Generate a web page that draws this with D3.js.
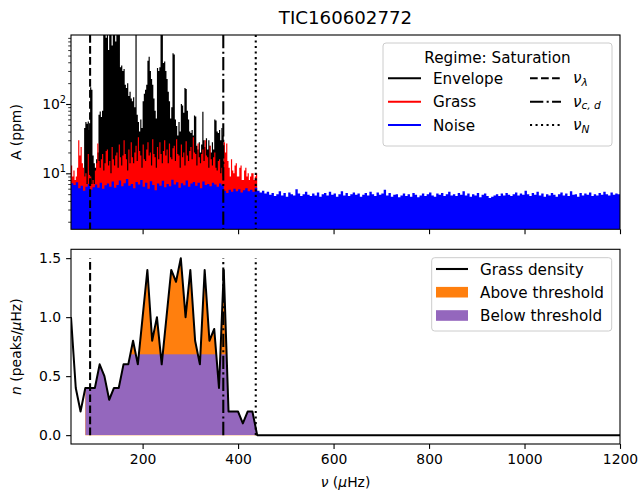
<!DOCTYPE html>
<html><head><meta charset="utf-8">
<script src="https://cdn.jsdelivr.net/npm/d3@7"></script>
<style>body{margin:0;background:#fff} text{font-family:"DejaVu Sans",sans-serif}</style>
</head><body><svg id="c" width="640" height="496"></svg>
<script>
// ---------------- data ----------------
const title = "TIC160602772";
const noiseStart = 50, noiseStep = 5;
const noise = [
7.2,6.8,7.4,6.1,6.6,5.6,6.4,7.0,5.8,6.3,6.9,6.2,7.3,6.0,6.7,7.1,6.4,7.6,6.2,6.8,
7.9,6.5,7.2,8.3,6.6,7.0,6.1,7.5,6.9,8.0,6.4,7.3,6.0,7.7,6.8,5.7,7.1,6.6,7.8,6.3,
7.0,6.5,8.1,6.9,7.4,6.2,7.2,6.7,7.9,6.4,7.1,7.5,6.6,7.3,6.1,7.6,6.8,7.0,6.5,7.3,
6.9,6.4,7.1,6.7,5.6,5.2,5.8,5.4,6.0,5.5,5.9,5.3,5.7,6.1,5.5,5.8,5.4,6.2,5.6,5.3,
5.6,5.1,5.4,4.9,5.2,4.7,5.0,5.5,4.8,5.2,4.6,5.3,5.0,4.8,5.9,5.1,4.7,5.0,5.4,4.9,
4.7,5.1,4.8,5.3,4.6,5.0,5.2,4.8,5.4,4.9,5.1,4.6,5.0,5.5,4.8,5.2,4.7,5.0,5.3,4.9,
5.1,4.6,4.9,5.2,4.8,5.4,5.0,4.7,5.3,4.9,5.1,5.8,4.8,5.2,4.6,4.9,5.0,4.5,4.8,5.1,
4.7,5.0,4.6,5.2,4.9,4.5,4.8,5.1,4.7,5.0,5.3,4.8,4.6,5.1,4.9,5.2,4.7,5.0,5.4,4.8,
5.0,4.7,5.2,4.9,5.5,4.8,5.1,4.6,5.0,4.8,5.2,4.5,4.9,5.1,4.7,4.4,4.6,4.8,5.0,4.7,
5.1,4.8,5.2,4.9,4.7,5.0,5.3,4.8,5.1,4.9,5.6,5.0,4.7,5.2,4.9,5.4,4.8,5.1,4.6,5.0,
4.8,5.2,4.9,4.6,5.0,5.3,4.8,5.1,4.7,5.5,4.9,5.0,4.6,5.2,4.8,5.1,4.9,5.3,4.7,5.0,
4.8,5.2,4.9,5.4,5.0,4.8,5.3,4.9,5.1,5.0,5.2];
const grassStart = 50, grassStep = 2.5;
const grass = [
13,9,11,8,9,12,30,18,24,14,12,9,10,7,19,11,9,7,8,7,
11,14,27,15,12,16,19,11,14,21,22,13,15,10,24,16,13,18,20,12,
26,17,13,18,30,19,16,11,22,14,28,17,14,20,25,15,33,21,18,12,
26,16,15,22,28,18,20,13,31,19,17,12,24,16,28,19,14,21,30,18,
22,14,27,17,16,23,25,15,31,19,18,12,26,17,20,13,29,18,15,21,
24,16,33,20,19,13,27,17,14,19,22,15,30,18,17,12,25,16,13,17,
20,12,11,15,16,10,12,9,28,20,27,15,12,9,16,11,10,13,14,9,
9,12,13,8,8,11,12,9,10,8,9,10,10,8,9,10];
const envStart = 77.5, envStep = 2.5;
const envelope = [
45,55,52,56,42,175,160,18,14,12,16,20,70,78,65,80,
1500,1500,900,1500,600,1500,1500,700,1500,1500,800,1500,1500,1500,
340,360,300,320,190,170,200,130,150,120,110,125,90,1500,70,55,40,60,45,
110,140,160,190,420,480,300,230,190,120,80,62,330,300,340,1500,1500,
390,410,300,230,150,110,62,90,540,520,60,48,35,55,40,100,95,75,170,165,
80,60,40,38,42,35,68,66,25,22,28,20,26,77,30,24,32,22,30,25,20,28,22,
60,58,40,38,42,30,45,35,15];
const densFreq = [50,60,70,80,90,100,110,120,130,140,150,160,170,180,190,200,210,220,230,240,
                  250,260,270,280,290,300,310,320,330,340,350,360,370,380,390,400,410,420,430,440,1200];
const density = [1.0,0.4,0.2,0.4,0.4,0.4,0.6,0.5,0.3,0.4,0.4,0.6,0.6,0.8,0.6,1.0,1.4,0.8,1.0,0.6,
                 1.0,1.4,1.3,1.5,1.0,1.4,0.8,0.6,1.4,0.8,0.9,0.4,1.4,0.2,0.2,0.2,0.1,0.2,0.2,0.0,0.0];
const threshold = 0.685;
const fillRange = [80, 440];
const nuLambda = 90, nuCD = 369, nuN = 437;
const xTicks = [200,400,600,800,1000,1200];
const yTopTicks = [10,100];
const yTopMinor = [2,3,4,5,6,7,8,9,20,30,40,50,60,70,80,90,200,300,400,500,600,700,800,900];
const yBotTicks = [0.0,0.5,1.0,1.5];

// ---------------- layout ----------------
const svg = d3.select("#c");
const L = 71, R = 620, T1 = 35, B1 = 229.3, T2 = 249.3, B2 = 444;
const FS = 13.9, LFS = 15.2;
const x = d3.scaleLinear().domain([50,1200]).range([L,R]);
const yA = d3.scaleLog().domain([1.556,990]).range([B1,T1]);
const yN = d3.scaleLinear().domain([-0.075,1.575]).range([B2,T2]);
const LW = 2.08;
const dashes = {dashed: `${3.7*LW},${1.6*LW}`, dashdot: `${6.4*LW},${1.6*LW},${1*LW},${1.6*LW}`, dotted: `${1*LW},${1.65*LW}`};

const defs = svg.append("defs");
defs.append("clipPath").attr("id","clipTop").append("rect").attr("x",L).attr("y",T1).attr("width",R-L).attr("height",B1-T1);
defs.append("clipPath").attr("id","clipBot").append("rect").attr("x",L).attr("y",T2).attr("width",R-L).attr("height",B2-T2);

function stepPts(start, step, vals){
  const p = vals.map((v,i)=>[start+i*step, v]);
  p.push([start+vals.length*step, vals[vals.length-1]]);
  return p;
}
const areaTop = d3.area().x(d=>x(d[0])).y0(B1).y1(d=>yA(d[1])).curve(d3.curveStepAfter);

// ---------------- top panel ----------------
const gT = svg.append("g").attr("clip-path","url(#clipTop)");
gT.append("path").attr("d", areaTop(stepPts(envStart, envStep, envelope))).attr("fill","#000");
gT.append("path").attr("d", areaTop(stepPts(grassStart, grassStep, grass))).attr("fill","#ff0000");
gT.append("path").attr("d", areaTop(stepPts(noiseStart, noiseStep, noise))).attr("fill","#0000ff");

const vlines = [[nuLambda,"dashed"],[nuCD,"dashdot"],[nuN,"dotted"]];
vlines.forEach(([v,s])=>{
  gT.append("line").attr("x1",x(v)).attr("x2",x(v)).attr("y1",T1).attr("y2",B1)
    .attr("stroke","#000").attr("stroke-width",LW).attr("stroke-dasharray",dashes[s]);
});

// ---------------- bottom panel ----------------
const gB = svg.append("g").attr("clip-path","url(#clipBot)");
const pts = densFreq.map((f,i)=>[f,density[i]]);
const fillPts = pts.filter(d=>d[0]>=fillRange[0] && d[0]<=fillRange[1]);
const areaB = d3.area().x(d=>x(d[0])).y0(yN(0)).y1(d=>yN(d[1]));
const aPath = areaB(fillPts);
defs.append("clipPath").attr("id","clipDens").append("path").attr("d", aPath);
gB.append("path").attr("d", aPath).attr("fill","#ff7f0e");
gB.append("rect").attr("x",x(fillRange[0])).attr("width",x(fillRange[1])-x(fillRange[0]))
  .attr("y",yN(threshold)).attr("height",yN(0)-yN(threshold))
  .attr("fill","#9467bd").attr("clip-path","url(#clipDens)");
const dMax = d3.max(density);
vlines.forEach(([v,s])=>{
  gB.append("line").attr("x1",x(v)).attr("x2",x(v)).attr("y1",yN(0)).attr("y2",yN(dMax))
    .attr("stroke","#000").attr("stroke-width",LW).attr("stroke-dasharray",dashes[s]);
});
gB.append("path").attr("d", d3.line().x(d=>x(d[0])).y(d=>yN(d[1]))(pts))
  .attr("fill","none").attr("stroke","#000").attr("stroke-width",2).attr("stroke-linejoin","round");

// ---------------- axes ----------------
function styleAxis(g){
  g.select(".domain").remove();
  g.selectAll(".tick line").attr("stroke","#000").attr("stroke-width",1.1);
  g.selectAll(".tick text").attr("font-size",FS).attr("fill","#000").attr("font-family","DejaVu Sans");
}
svg.append("g").attr("transform",`translate(0,${B1})`)
  .call(d3.axisBottom(x).tickValues(xTicks).tickFormat("").tickSize(4.9).tickSizeOuter(0)).call(styleAxis);
svg.append("g").attr("transform",`translate(0,${B2})`)
  .call(d3.axisBottom(x).tickValues(xTicks).tickFormat(d3.format("d")).tickSize(4.9).tickPadding(4.9).tickSizeOuter(0)).call(styleAxis);
svg.append("g").attr("transform",`translate(${L},0)`)
  .call(d3.axisLeft(yN).tickValues(yBotTicks).tickFormat(d3.format(".1f")).tickSize(4.9).tickPadding(4.9).tickSizeOuter(0)).call(styleAxis);
svg.append("g").attr("transform",`translate(${L},0)`)
  .call(d3.axisLeft(yA).tickValues(yTopMinor.filter(v=>v>=yA.domain()[0]&&v<=yA.domain()[1])).tickFormat("").tickSize(2.8).tickSizeOuter(0))
  .call(g=>{g.select(".domain").remove(); g.selectAll(".tick line").attr("stroke","#000").attr("stroke-width",0.8);});
const gLog = svg.append("g").attr("transform",`translate(${L},0)`)
  .call(d3.axisLeft(yA).tickValues(yTopTicks).tickFormat("").tickSize(4.9).tickPadding(4.9).tickSizeOuter(0)).call(styleAxis);
gLog.selectAll(".tick text").each(function(d){
  const t = d3.select(this);
  t.text(null).attr("x",-5).attr("dy","0.32em");
  t.append("tspan").text("10");
  t.append("tspan").text(String(Math.round(Math.log10(d)))).attr("font-size",FS*0.7).attr("dy",-6);
});

// spines
[[T1,B1],[T2,B2]].forEach(([t,b])=>{
  svg.append("rect").attr("x",L).attr("y",t).attr("width",R-L).attr("height",b-t)
    .attr("fill","none").attr("stroke","#000").attr("stroke-width",1.1);
});

// labels
svg.append("text").attr("x",(L+R)/2).attr("y",24).attr("text-anchor","middle").attr("font-size",18.2).text(title);
const xl = svg.append("text").attr("x",(L+R)/2).attr("y",487).attr("text-anchor","middle").attr("font-size",FS);
xl.append("tspan").attr("font-style","italic").text("ν");
xl.append("tspan").text(" (");
xl.append("tspan").attr("font-style","italic").text("μ");
xl.append("tspan").text("Hz)");
svg.append("text").attr("transform",`translate(21,${(T1+B1)/2}) rotate(-90)`).attr("text-anchor","middle").attr("font-size",FS).text("A (ppm)");
const yl = svg.append("text").attr("transform",`translate(21,${(T2+B2)/2}) rotate(-90)`).attr("text-anchor","middle").attr("font-size",FS);
yl.append("tspan").attr("font-style","italic").text("n");
yl.append("tspan").text(" (peaks/");
yl.append("tspan").attr("font-style","italic").text("μ");
yl.append("tspan").text("Hz)");

// ---------------- legends ----------------
const lg1 = svg.append("g");
lg1.append("rect").attr("x",383).attr("y",43).attr("width",229).attr("height",103).attr("rx",3)
  .attr("fill","#fff").attr("fill-opacity",0.8).attr("stroke","#cccccc").attr("stroke-width",1);
lg1.append("text").attr("x",497.5).attr("y",63).attr("text-anchor","middle").attr("font-size",LFS).text("Regime: Saturation");
const seriesLeg = [["Envelope","#000"],["Grass","#ff0000"],["Noise","#0000ff"]];
const rowsY = [78.3,101.7,125];
seriesLeg.forEach(([n,c],i)=>{
  lg1.append("line").attr("x1",388).attr("x2",421).attr("y1",rowsY[i]).attr("y2",rowsY[i]).attr("stroke",c).attr("stroke-width",LW);
  lg1.append("text").attr("x",433).attr("y",rowsY[i]+5.5).attr("font-size",LFS).text(n);
});
const nuLeg = [["λ","dashed"],["c, d","dashdot"],["N","dotted"]];
nuLeg.forEach(([sub,s],i)=>{
  lg1.append("line").attr("x1",530).attr("x2",561).attr("y1",rowsY[i]).attr("y2",rowsY[i])
    .attr("stroke","#000").attr("stroke-width",LW).attr("stroke-dasharray",dashes[s]);
  const t = lg1.append("text").attr("x",573).attr("y",rowsY[i]+5).attr("font-size",LFS).attr("font-style","italic");
  t.append("tspan").text("ν");
  t.append("tspan").text(sub).attr("font-size",LFS*0.7).attr("dy",2.5);
});

const lg2 = svg.append("g");
lg2.append("rect").attr("x",431.7).attr("y",257.7).attr("width",180).attr("height",73.3).attr("rx",3)
  .attr("fill","#fff").attr("fill-opacity",0.8).attr("stroke","#cccccc").attr("stroke-width",1);
const r2 = [269,292.2,315.5];
lg2.append("line").attr("x1",436).attr("x2",468).attr("y1",r2[0]).attr("y2",r2[0]).attr("stroke","#000").attr("stroke-width",LW);
lg2.append("rect").attr("x",436).attr("width",32).attr("y",r2[1]-5.3).attr("height",10.6).attr("fill","#ff7f0e");
lg2.append("rect").attr("x",436).attr("width",32).attr("y",r2[2]-5.3).attr("height",10.6).attr("fill","#9467bd");
["Grass density","Above threshold","Below threshold"].forEach((n,i)=>{
  lg2.append("text").attr("x",480).attr("y",r2[i]+5.5).attr("font-size",LFS).text(n);
});
</script></body></html>
